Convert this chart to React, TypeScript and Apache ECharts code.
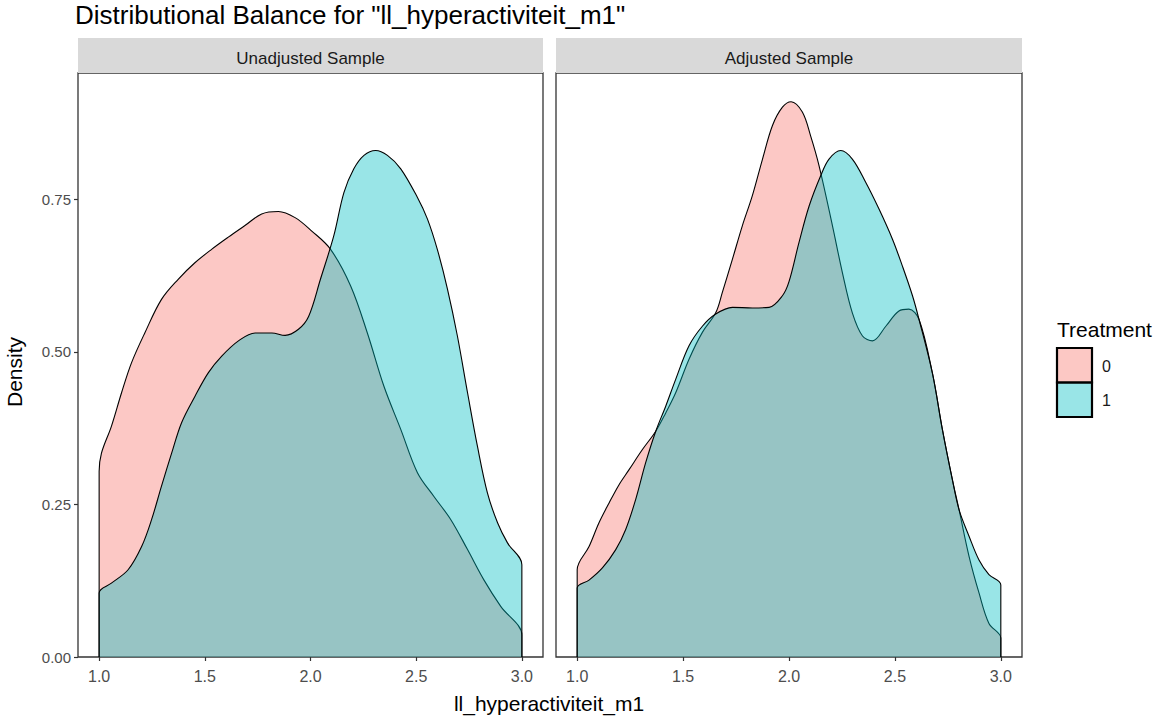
import React, { useEffect, useRef } from "react";
import * as echarts from "echarts";

const titleText = 'Distributional Balance for "ll_hyperactiviteit_m1"';
const panelNames = ["Unadjusted Sample", "Adjusted Sample"];
const treatmentLevels = ["0", "1"];
const xTicks = [1.0, 1.5, 2.0, 2.5, 3.0];
const yTicks = [0, 0.25, 0.5, 0.75];

// Unadjusted, treatment 0
const unadjX0 = [1.0, 1.011, 1.058, 1.106, 1.153, 1.216, 1.295, 1.374, 1.453, 1.532, 1.611, 1.69, 1.769, 1.848, 1.927, 2.006, 2.095, 2.19, 2.269, 2.347, 2.427, 2.506, 2.584, 2.664, 2.743, 2.821, 2.9, 3.0];
const unadjY0 = [0.304, 0.334, 0.378, 0.433, 0.482, 0.531, 0.586, 0.619, 0.646, 0.668, 0.688, 0.707, 0.726, 0.73, 0.72, 0.698, 0.668, 0.608, 0.531, 0.444, 0.373, 0.302, 0.263, 0.225, 0.176, 0.126, 0.083, 0.036];
// Unadjusted, treatment 1
const unadjX1 = [1.0, 1.058, 1.137, 1.201, 1.248, 1.295, 1.343, 1.39, 1.453, 1.517, 1.58, 1.659, 1.738, 1.817, 1.88, 1.943, 1.991, 2.047, 2.11, 2.158, 2.205, 2.253, 2.308, 2.364, 2.427, 2.506, 2.553, 2.6, 2.648, 2.695, 2.743, 2.79, 2.837, 2.885, 2.932, 3.0];
const unadjY1 = [0.105, 0.121, 0.143, 0.181, 0.225, 0.28, 0.334, 0.384, 0.427, 0.466, 0.493, 0.518, 0.531, 0.531, 0.527, 0.537, 0.558, 0.619, 0.69, 0.761, 0.8, 0.822, 0.83, 0.822, 0.8, 0.753, 0.718, 0.668, 0.603, 0.526, 0.433, 0.345, 0.269, 0.22, 0.187, 0.151];
// Adjusted, treatment 0
const adjX0 = [1.0, 1.056, 1.103, 1.15, 1.197, 1.245, 1.308, 1.371, 1.418, 1.465, 1.528, 1.591, 1.654, 1.685, 1.733, 1.78, 1.827, 1.875, 1.922, 1.969, 2.01, 2.063, 2.102, 2.142, 2.205, 2.252, 2.299, 2.347, 2.394, 2.457, 2.519, 2.566, 2.614, 2.677, 2.724, 2.771, 2.803, 2.85, 2.897, 2.944, 3.0];
const adjY0 = [0.143, 0.181, 0.22, 0.252, 0.282, 0.307, 0.34, 0.37, 0.4, 0.433, 0.488, 0.532, 0.564, 0.597, 0.652, 0.707, 0.756, 0.816, 0.871, 0.901, 0.91, 0.893, 0.854, 0.805, 0.707, 0.63, 0.564, 0.526, 0.518, 0.542, 0.567, 0.57, 0.553, 0.465, 0.373, 0.291, 0.241, 0.165, 0.105, 0.055, 0.031];
// Adjusted, treatment 1
const adjX1 = [1.0, 1.056, 1.119, 1.182, 1.229, 1.276, 1.323, 1.371, 1.418, 1.465, 1.528, 1.591, 1.654, 1.733, 1.827, 1.906, 1.969, 2.0, 2.047, 2.095, 2.15, 2.189, 2.244, 2.299, 2.362, 2.425, 2.488, 2.535, 2.583, 2.614, 2.677, 2.724, 2.771, 2.803, 2.85, 2.897, 2.944, 3.0];
const adjY1 = [0.113, 0.126, 0.146, 0.176, 0.209, 0.258, 0.318, 0.37, 0.411, 0.455, 0.51, 0.542, 0.562, 0.573, 0.572, 0.573, 0.592, 0.615, 0.679, 0.739, 0.789, 0.816, 0.83, 0.816, 0.778, 0.734, 0.685, 0.641, 0.592, 0.553, 0.465, 0.373, 0.291, 0.241, 0.198, 0.159, 0.135, 0.118];

const COLORS = ["#F8766D", "#00BFC4"];
const FONT = "'Liberation Sans', Arial, sans-serif";

function build(xs: number[], ys: number[]) {
  const pts: number[][] = [[xs[0], 0]];
  xs.forEach((x, i) => pts.push([x, ys[i]]));
  pts.push([xs[xs.length - 1], 0]);
  return pts;
}

export default function App() {
  const ref = useRef<HTMLDivElement>(null);
  useEffect(() => {
    if (!ref.current) return;
    const chart = echarts.init(ref.current, undefined, { renderer: "svg" });
    const grids = [
      { left: 78, top: 73, width: 465, height: 584 },
      { left: 556, top: 73, width: 466, height: 584 },
    ];
    const series: any[] = [];
    const sets = [
      [build(unadjX0, unadjY0), build(unadjX1, unadjY1)],
      [build(adjX0, adjY0), build(adjX1, adjY1)],
    ];
    sets.forEach((pair, gi) => {
      pair.forEach((data, ti) => {
        series.push({
          type: "line",
          name: treatmentLevels[ti],
          xAxisIndex: gi,
          yAxisIndex: gi,
          data,
          showSymbol: false,
          smooth: 0.35,
          lineStyle: { color: "#000000", width: 1.1 },
          areaStyle: { color: COLORS[ti], opacity: 0.4 },
          z: 2 + ti,
          silent: true,
        });
      });
    });
    const graphics: any[] = [
      {
        type: "text",
        left: 75,
        top: 2,
        style: { text: titleText, fontSize: 26, fontFamily: FONT, fill: "#000" },
      },
      {
        type: "text",
        x: 14,
        y: 372,
        rotation: Math.PI / 2,
        style: { text: "Density", fontSize: 21, fontFamily: FONT, fill: "#000", align: "center", verticalAlign: "middle" },
      },
      {
        type: "text",
        x: 549,
        y: 703,
        style: { text: "ll_hyperactiviteit_m1", fontSize: 21, fontFamily: FONT, fill: "#000", align: "center", verticalAlign: "middle" },
      },
      {
        type: "text",
        x: 1057,
        y: 329,
        style: { text: "Treatment", fontSize: 21, fontFamily: FONT, fill: "#000", align: "left", verticalAlign: "middle" },
      },
    ];
    grids.forEach((g, i) => {
      graphics.push({
        type: "rect",
        shape: { x: g.left, y: 38, width: g.width, height: 35 },
        style: { fill: "#D9D9D9" },
      });
      graphics.push({
        type: "text",
        x: g.left + g.width / 2,
        y: 58,
        style: { text: panelNames[i], fontSize: 17, fontFamily: FONT, fill: "#1A1A1A", align: "center", verticalAlign: "middle" },
      });
    });
    treatmentLevels.forEach((lvl, i) => {
      graphics.push({
        type: "rect",
        shape: { x: 1057, y: 348 + i * 34.5, width: 35, height: 34.5 },
        style: { fill: COLORS[i], opacity: 1 },
        z: 10,
      });
      graphics.push({
        type: "rect",
        shape: { x: 1057, y: 348 + i * 34.5, width: 35, height: 34.5 },
        style: { fill: "#ffffff", opacity: 0.6 },
        z: 11,
      });
      graphics.push({
        type: "rect",
        shape: { x: 1057, y: 348 + i * 34.5, width: 35, height: 34.5 },
        style: { fill: "none", stroke: "#000", lineWidth: 2.2 },
        z: 12,
      });
      graphics.push({
        type: "text",
        x: 1102,
        y: 366 + i * 34.5,
        style: { text: lvl, fontSize: 16, fontFamily: FONT, fill: "#1A1A1A", align: "left", verticalAlign: "middle" },
        z: 12,
      });
    });

    chart.setOption({
      animation: false,
      backgroundColor: "#ffffff",
      grid: grids.map((g) => ({ ...g, show: true, borderColor: "#333333", borderWidth: 1.3, backgroundColor: "#ffffff", containLabel: false })),
      xAxis: grids.map((_, i) => ({
        type: "value",
        gridIndex: i,
        min: 0.9,
        max: 3.1,
        splitLine: { show: false },
        axisLine: { show: false },
        axisTick: { show: true, length: 4, customValues: xTicks, lineStyle: { color: "#333333", width: 1.2 } },
        axisLabel: {
          show: true,
          customValues: xTicks,
          formatter: (v: number) => v.toFixed(1),
          color: "#4D4D4D",
          fontSize: 16,
          fontFamily: FONT,
          margin: 11,
        },
      })),
      yAxis: grids.map((_, i) => ({
        type: "value",
        gridIndex: i,
        min: 0,
        max: 0.957,
        splitLine: { show: false },
        axisLine: { show: false },
        axisTick: { show: i === 0, length: 4, customValues: yTicks, lineStyle: { color: "#333333", width: 1.2 } },
        axisLabel: {
          show: i === 0,
          customValues: yTicks,
          formatter: (v: number) => v.toFixed(2),
          color: "#4D4D4D",
          fontSize: 15,
          fontFamily: FONT,
          margin: 7,
        },
      })),
      series,
      graphic: graphics,
    });
    return () => chart.dispose();
  }, []);
  return <div ref={ref} style={{ position: "fixed", left: 0, top: 0, width: 1160, height: 717 }} />;
}
